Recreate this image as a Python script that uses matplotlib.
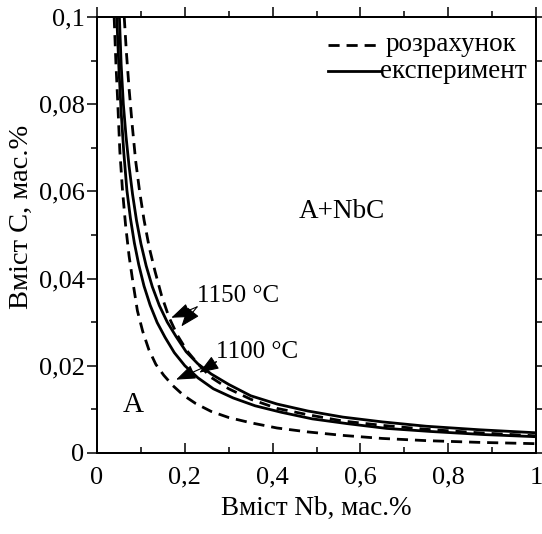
import matplotlib
matplotlib.use("Agg")
import matplotlib.pyplot as plt
from matplotlib.lines import Line2D
from matplotlib.ticker import MultipleLocator, FuncFormatter

# Дані (Nb, мас.% ; C, мас.%)
nb_calc_1100 = [0.039, 0.043, 0.047, 0.052, 0.058, 0.065, 0.073, 0.082, 0.092, 0.104, 0.118,
                0.134, 0.152, 0.173, 0.197, 0.225, 0.26, 0.3, 0.35, 0.41, 0.48, 0.56, 0.65,
                0.75, 0.87, 1.0]
c_calc_1100 = [0.100, 0.0895, 0.0809, 0.0692, 0.0603, 0.0523, 0.0452, 0.0390, 0.0326, 0.0279,
               0.0237, 0.0203, 0.0178, 0.0154, 0.0132, 0.0113, 0.0095, 0.0081, 0.0069, 0.0057,
               0.0048, 0.0040, 0.0033, 0.0028, 0.0024, 0.0021]

nb_exp_1100 = [0.045, 0.05, 0.055, 0.061, 0.068, 0.076, 0.085, 0.095, 0.107, 0.121, 0.137,
               0.155, 0.176, 0.2, 0.23, 0.265, 0.31, 0.36, 0.42, 0.49, 0.57, 0.66, 0.76,
               0.88, 1.0]
c_exp_1100 = [0.100, 0.088, 0.0782, 0.0689, 0.0603, 0.0539, 0.0482, 0.0432, 0.0383, 0.0339,
              0.0299, 0.0265, 0.0230, 0.0200, 0.0172, 0.0147, 0.0126, 0.0108, 0.0093, 0.0078,
              0.0067, 0.0056, 0.0049, 0.0042, 0.0037]

nb_exp_1150 = [0.051, 0.055, 0.06, 0.066, 0.073, 0.081, 0.09, 0.1, 0.112, 0.126, 0.142, 0.16,
               0.18, 0.203, 0.23, 0.26, 0.3, 0.35, 0.41, 0.48, 0.56, 0.65, 0.75, 0.87, 1.0]
c_exp_1150 = [0.100, 0.0891, 0.080, 0.0727, 0.0658, 0.0593, 0.0533, 0.048, 0.0429, 0.0381,
              0.0338, 0.030, 0.0267, 0.0232, 0.0204, 0.0181, 0.0157, 0.0131, 0.0112, 0.0096,
              0.0082, 0.0071, 0.0061, 0.0053, 0.0046]

nb_calc_1150 = [0.062, 0.067, 0.073, 0.08, 0.088, 0.097, 0.107, 0.119, 0.132, 0.147, 0.164,
                0.183, 0.205, 0.23, 0.26, 0.3, 0.35, 0.41, 0.48, 0.56, 0.65, 0.75, 0.87, 1.0]
c_calc_1150 = [0.100, 0.0918, 0.0836, 0.0754, 0.0670, 0.060, 0.0535, 0.0471, 0.0417, 0.0361,
               0.0311, 0.0270, 0.0234, 0.0204, 0.0173, 0.0147, 0.0123, 0.0102, 0.00875,
               0.0073, 0.0063, 0.0054, 0.0046, 0.0039]

plt.rcParams['font.family'] = ['Liberation Serif', 'DejaVu Serif']

fig = plt.figure(figsize=(5.42, 5.34), dpi=100)
ax = fig.add_axes([0.179, 0.152, 0.81, 0.816])

dash = (4, 2.5)
ax.plot(nb_calc_1100, c_calc_1100, color='black', lw=2, dashes=dash)
ax.plot(nb_exp_1100, c_exp_1100, color='black', lw=2)
ax.plot(nb_exp_1150, c_exp_1150, color='black', lw=2)
ax.plot(nb_calc_1150, c_calc_1150, color='black', lw=2, dashes=dash)

ax.set_xlim(0, 1)
ax.set_ylim(0, 0.1)

ax.xaxis.set_major_locator(MultipleLocator(0.2))
ax.xaxis.set_minor_locator(MultipleLocator(0.1))
ax.yaxis.set_major_locator(MultipleLocator(0.02))
ax.yaxis.set_minor_locator(MultipleLocator(0.01))

fmt = FuncFormatter(lambda v, p: ('%g' % round(v, 3)).replace('.', ','))
ax.xaxis.set_major_formatter(fmt)
ax.yaxis.set_major_formatter(fmt)

ax.tick_params(axis='x', which='both', direction='in', labelsize=19, pad=10)
ax.tick_params(axis='y', which='both', direction='out', labelsize=19, pad=2)
ax.tick_params(which='major', length=7, width=1.1)
ax.tick_params(which='minor', length=4, width=1.1)

# верхня та права осі з тиками назовні
axt = ax.twiny()
axt.set_xlim(0, 1)
axt.xaxis.set_major_locator(MultipleLocator(0.2))
axt.xaxis.set_minor_locator(MultipleLocator(0.1))
axt.tick_params(which='both', direction='out', labeltop=False, width=1.1)
axt.tick_params(which='major', length=7)
axt.tick_params(which='minor', length=4)
axr = ax.twinx()
axr.set_ylim(0, 0.1)
axr.yaxis.set_major_locator(MultipleLocator(0.02))
axr.yaxis.set_minor_locator(MultipleLocator(0.01))
axr.tick_params(which='both', direction='out', labelright=False, width=1.1)
axr.tick_params(which='major', length=7)
axr.tick_params(which='minor', length=4)

for a in (ax, axt, axr):
    for s in a.spines.values():
        s.set_linewidth(1.3)

ax.set_xlabel('Вміст Nb, мас.%', fontsize=19.5, labelpad=5)
ax.set_ylabel('Вміст С, мас.%', fontsize=20.5, va='center')
ax.yaxis.set_label_coords(-0.172, 0.541)

# легенда
ax.add_line(Line2D([0.526, 0.649], [0.936, 0.936], transform=ax.transAxes,
                   color='black', lw=2, dashes=dash))
ax.text(0.657, 0.936, 'розрахунок', transform=ax.transAxes, fontsize=19.5,
        ha='left', va='center')
ax.add_line(Line2D([0.526, 0.645], [0.876, 0.876], transform=ax.transAxes,
                   color='black', lw=2))
ax.text(0.645, 0.876, 'експеримент', transform=ax.transAxes, fontsize=19.5,
        ha='left', va='center')

ax.text(0.557, 0.0554, 'A+NbC', fontsize=19.5, ha='center', va='center')
ax.text(0.082, 0.0110, 'A', fontsize=21, ha='center', va='center')

arrow = dict(arrowstyle='-|>,head_length=1.2,head_width=0.45', color='black', lw=0.8,
             shrinkA=0, shrinkB=0)
ax.text(0.228, 0.0360, '1150 °C', fontsize=18, ha='left', va='center')
ax.annotate('', xy=(0.169, 0.0310), xytext=(0.228, 0.0335), arrowprops=arrow)
ax.annotate('', xy=(0.192, 0.0290), xytext=(0.228, 0.0335), arrowprops=arrow)
ax.text(0.272, 0.0232, '1100 °C', fontsize=18, ha='left', va='center')
ax.annotate('', xy=(0.180, 0.0168), xytext=(0.272, 0.0209), arrowprops=arrow)
ax.annotate('', xy=(0.233, 0.0184), xytext=(0.272, 0.0209), arrowprops=arrow)

fig.savefig('out.png', dpi=100)
